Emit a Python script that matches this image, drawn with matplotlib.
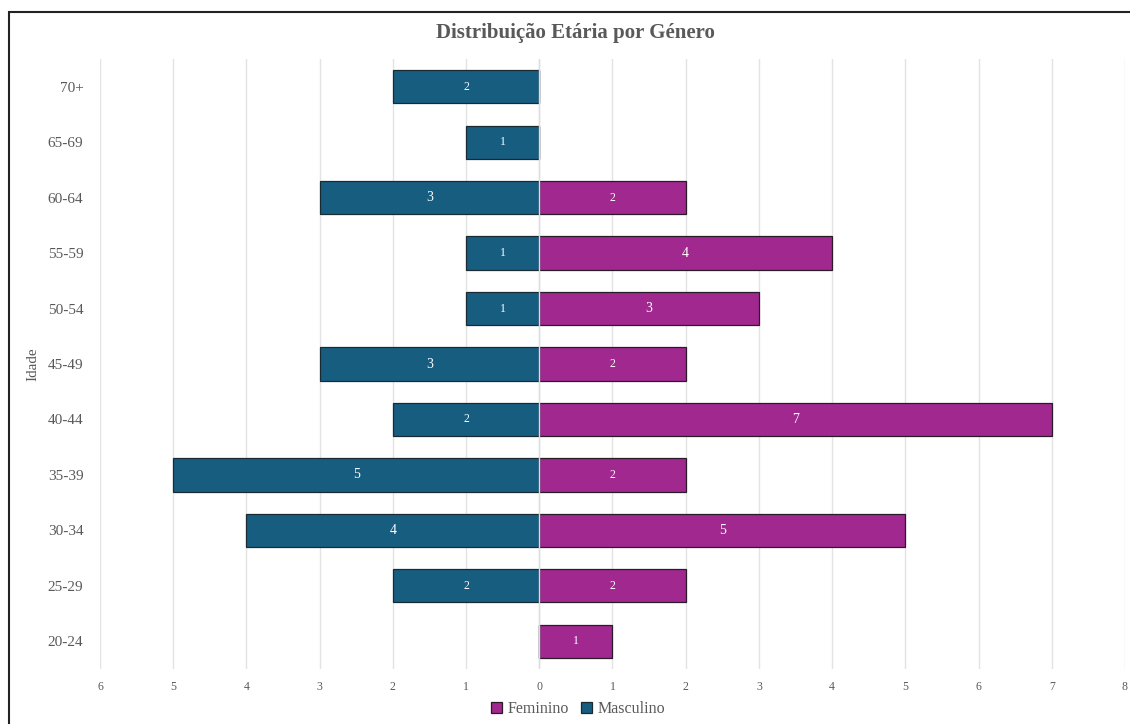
import matplotlib.pyplot as plt
from matplotlib import ticker
from matplotlib.patches import Rectangle

age_groups = ["20-24", "25-29", "30-34", "35-39", "40-44", "45-49",
              "50-54", "55-59", "60-64", "65-69", "70+"]
masculino = [0, 2, 4, 5, 2, 3, 1, 1, 3, 1, 2]
feminino = [1, 2, 5, 2, 7, 2, 3, 4, 2, 0, 0]

color_m = "#175d80"
color_f = "#a0288f"
grey = "#595959"

plt.rcParams["font.family"] = ["Liberation Serif", "DejaVu Serif"]

fig = plt.figure(figsize=(11.3, 7.24), dpi=100, facecolor="w")
ax = fig.add_axes([100 / 1130, 1 - 669 / 724, 1025 / 1130, 610 / 724])

y = list(range(len(age_groups)))
neg_m = [-v for v in masculino]
bars_f = ax.barh(y, feminino, height=0.6, color=color_f, edgecolor="#2a1a2a",
                 linewidth=0.9, label="Feminino", zorder=2)
bars_m = ax.barh(y, neg_m, height=0.6, color=color_m, edgecolor="#1a2a33",
                 linewidth=0.9, label="Masculino", zorder=2)

for bars, vals in ((bars_f, feminino), (bars_m, masculino)):
    for b, v in zip(bars, vals):
        if v == 0:
            continue
        ax.text(b.get_x() + b.get_width() / 2, b.get_y() + b.get_height() / 2,
                str(v), ha="center", va="center", color="white",
                fontsize=10 if v >= 3 else 8.5, zorder=3)

ax.axvline(0, color="#dddddd", linewidth=1, zorder=2.5)

ax.set_xlim(-6, 8)
ax.set_ylim(-0.5, len(age_groups) - 0.5)
ax.set_xticks(range(-6, 9))
ax.xaxis.set_major_formatter(ticker.FuncFormatter(lambda x, p: format(abs(int(x)))))
ax.set_yticks(y)
ax.set_yticklabels(age_groups)
ax.grid(axis="x", color="#e3e3e3", linewidth=1, zorder=0)
ax.set_axisbelow(True)
for s in ax.spines.values():
    s.set_visible(False)
ax.tick_params(axis="x", length=0, pad=9, labelsize=8.5, labelcolor=grey)
ax.tick_params(axis="y", length=0, pad=12, labelsize=11, labelcolor=grey)
ax.set_ylabel("Idade", fontsize=11, color=grey)
ax.yaxis.set_label_coords(-0.0595, 0.5)

fig.text(575 / 1130, 1 - 33 / 724, "Distribuição Etária por Género", ha="center",
         va="center", fontsize=15, fontweight="bold", color=grey)

fig.legend(handles=[bars_f, bars_m], labels=["Feminino", "Masculino"],
           loc="center", bbox_to_anchor=(578 / 1130, 1 - 709 / 724), ncol=2,
           frameon=False, fontsize=11.5, handlelength=0.7, handleheight=0.7,
           handletextpad=0.3, columnspacing=0.8, labelcolor=grey)

# frame of the screenshot (top and left edges)
fig.patches.append(Rectangle((9 / 1130, -0.05), 1.1, 1 - 12 / 724 + 0.05,
                             transform=fig.transFigure, fill=False,
                             edgecolor="#222222", linewidth=1.5))

plt.savefig("out.png", dpi=100)
plt.close(fig)
